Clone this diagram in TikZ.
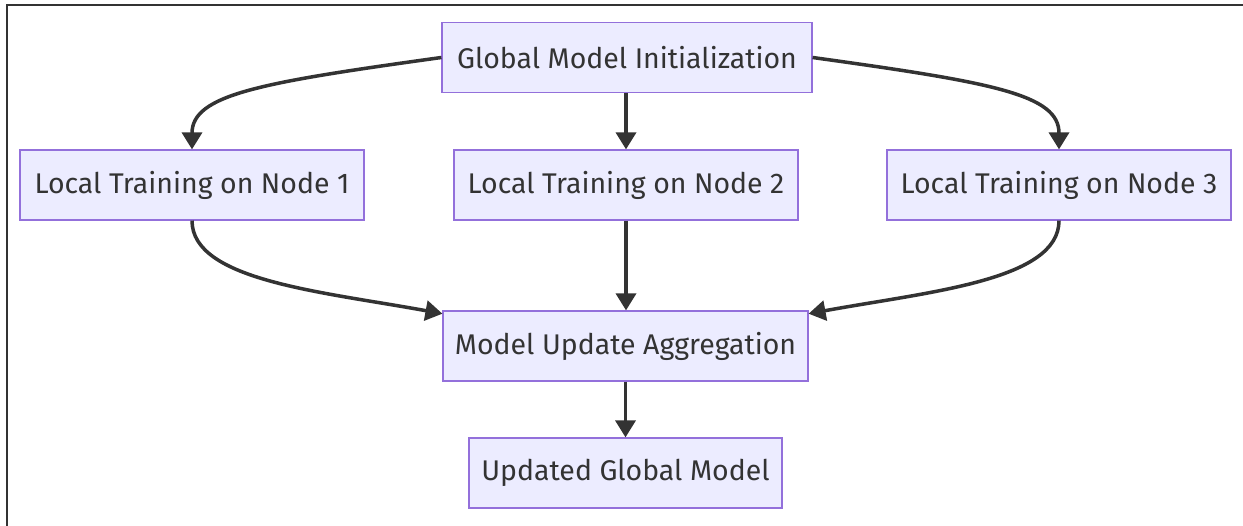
\documentclass[tikz,border=0pt]{standalone}
\usepackage{fontspec}
\setmainfont{Fira Sans}
\usepackage{xcolor}
\usepackage{tikz}
\usetikzlibrary{positioning, arrows.meta}
\definecolor{boxfill}{HTML}{ECECFF}
\definecolor{boxline}{HTML}{9370DB}
\definecolor{ink}{HTML}{333333}
\tikzset{
    stage/.style={draw=boxline, fill=boxfill, line width=0.7pt, minimum height=1.4cm,
        inner sep=0pt, text=ink, font=\fontsize{16.2}{19}\selectfont},
    flow/.style={draw=ink, line width=2pt, -{Triangle[width=0.4cm, length=0.34cm]}}
}

\begin{document}
\begin{tikzpicture}[x=0.02cm, y=-0.02cm]
            \useasboundingbox (0,0) rectangle (1243,526);
            %Frame
            \draw[ink, line width=1.2pt] (7,526) -- (7,5) -- (1243,5);

            %Nodes
            \node[stage, minimum width=7.4cm] at (627,57.5) (init) {Global Model Initialization};
            \node[stage, minimum width=6.88cm] at (192,185) (l1) {Local Training on Node 1};
            \node[stage, minimum width=6.88cm] at (626,185) (l2) {Local Training on Node 2};
            \node[stage, minimum width=6.88cm] at (1059,185) (l3) {Local Training on Node 3};
            \node[stage, minimum width=7.3cm] at (625.5,346) (agg) {Model Update Aggregation};
            \node[stage, minimum width=6.26cm] at (625.5,473) (upd) {Updated Global Model};

            %Lines
            \draw[flow] (init.west) .. controls +(-180,25) and +(0,-55) .. (l1.north);
            \draw[flow] (init.south -| l2.north) -- (l2.north);
            \draw[flow] (init.east) .. controls +(180,25) and +(0,-55) .. (l3.north);
            \draw[flow] (l1.south) .. controls +(0,60) and +(-120,-22) .. (agg.170);
            \draw[flow] (l2.south) -- (l2.south |- agg.north);
            \draw[flow] (l3.south) .. controls +(0,60) and +(120,-22) .. (agg.10);
            \draw[flow] (agg.south) -- (upd.north);
        \end{tikzpicture}
\end{document}
